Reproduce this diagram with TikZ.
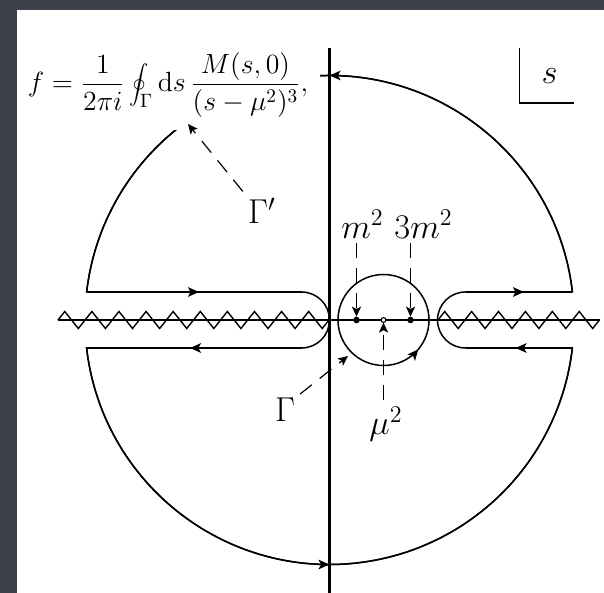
\documentclass[tikz,border=0pt]{standalone}
\usepackage{graphicx}
\usetikzlibrary{arrows.meta,decorations.pathmorphing,decorations.markings}
\definecolor{framecol}{RGB}{62,65,74}
\begin{document}
\begin{tikzpicture}[x=0.5pt,y=0.5pt,
  line/.style={line width=0.75pt},
  tip/.style={-{Stealth[length=5pt,width=4.6pt,inset=1.2pt]}},
  dsh/.style={line width=0.6pt, dash pattern=on 7.5pt off 5pt},
  midarrow/.style={postaction={decorate},decoration={markings,mark=at position #1 with {\arrow{Stealth[length=5.5pt,width=4.8pt,inset=1.3pt]}}}},
  lab/.style={font=\fontsize{17.3}{20}\selectfont, inner sep=0pt},
  zz/.style={line width=0.7pt, decorate, decoration={zigzag, segment length=#1, amplitude=4.25pt}}
]
% white page
\fill[white] (-329.5,-273) rectangle (274.5,320);
\useasboundingbox (-329.5,-273) rectangle (274.5,320);

% coordinates
\coordinate (O) at (0,0);
\coordinate (vtop) at (0,272);
\coordinate (vbot) at (0,-273);
\coordinate (hl) at (-271.5,0);
\coordinate (hr) at (270.5,0);
\coordinate (cutR) at (108.5,0);
\coordinate (rU) at (242.9,28);
\coordinate (lU) at (-242.9,28);
\coordinate (lD) at (-242.9,-28);
\coordinate (rD) at (242.9,-28);
\coordinate (klU) at (-28,28);
\coordinate (klD) at (-28,-28);
\coordinate (krU) at (136,28);
\coordinate (krD) at (136,-28);
\coordinate (m2) at (27,0);
\coordinate (mu) at (54,0);
\coordinate (m3) at (81,0);
\coordinate (m2t) at (27,3.4);
\coordinate (m3t) at (81,3.4);
\coordinate (mut) at (54,-2.6);
\coordinate (gbot) at (54,-45.5);
\coordinate (gt) at (18.5,-36);
\coordinate (gpt) at (-141.5,196);
\coordinate (sv) at (190.2,272);
\coordinate (sc) at (190.2,217);
\coordinate (sh) at (244.5,217);

% axes and cuts
\draw[line width=1.1pt] (vbot) -- (vtop);
\draw[line width=0.8pt] (hl) -- (hr);
\draw[zz=13.55pt] (hl) -- (O);
\draw[zz=13.45pt] (cutR) -- (hr);

% big contour Gamma'
\draw[line] (rU) arc[start angle=6.576, end angle=173.424, radius=244.5]
  -- (klU) arc[start angle=90, end angle=-90, radius=28]
  -- (lD) arc[start angle=186.576, end angle=353.424, radius=244.5]
  -- (krD) arc[start angle=270, end angle=90, radius=28] -- cycle;
\draw[line, midarrow=0.5] (rU) arc[start angle=6.576, end angle=173.424, radius=244.5];
\draw[line, midarrow=0.5] (lD) arc[start angle=186.576, end angle=353.424, radius=244.5];
\draw[line, midarrow=0.523] (lU) -- (klU);
\draw[line, midarrow=0.519] (klD) -- (lD);
\draw[line, midarrow=0.532] (rD) -- (krD);
\draw[line, midarrow=0.547] (krU) -- (rU);

% small contour Gamma
\draw[line, midarrow=0.139] (gbot) arc[start angle=-90, end angle=270, radius=45.5];

% points
\fill (m2) circle[radius=3.3];
\fill (m3) circle[radius=3.3];
\draw[line width=0.55pt, fill=white] (mu) circle[radius=2.4];

% formula (covers part of the arc)
\node[fill=white, inner sep=6pt, font=\fontsize{14.4}{17}\selectfont] (F) at (-161.5,235)
  {\scalebox{0.965}{$\displaystyle f=\frac{1}{2\pi i}\oint_\Gamma \mathrm{d}s\,\frac{M(s,0)}{(s-\mu^2)^3},$}};

% labels
\node[lab] (Lm2) at (33,96) {$m^2$};
\node[lab] (Lm3) at (94,96) {$3m^2$};
\node[lab] (Lmu) at (56.5,-104) {$\mu^2$};
\node[lab] (LG) at (-44.5,-90) {$\Gamma$};
\node[lab] (LGp) at (-67.5,109) {$\Gamma'$};
\node[lab] (Ls) at (220.2,244) {$s$};

% s corner
\draw[line] (sv) -- (sc) -- (sh);

% dashed pointers
\draw[dsh, tip, shorten <=2.5pt] (Lm2.south -| m2) -- (m2t);
\draw[dsh, tip, shorten <=2.5pt] (Lm3.south -| m3) -- (m3t);
\draw[dsh, tip, shorten <=3pt] (Lmu.north -| mu) -- (mut);
\draw[dsh, tip, shorten <=3pt] (LG.north east) -- (gt);
\draw[dsh, tip, shorten <=4pt] (LGp.north west) -- (gpt);

% dark frame on the left and top
\fill[framecol, even odd rule] (-329.5,-273) rectangle (274.5,320)
  (-312.5,-273) rectangle (274.5,310);
\end{tikzpicture}
\end{document}
